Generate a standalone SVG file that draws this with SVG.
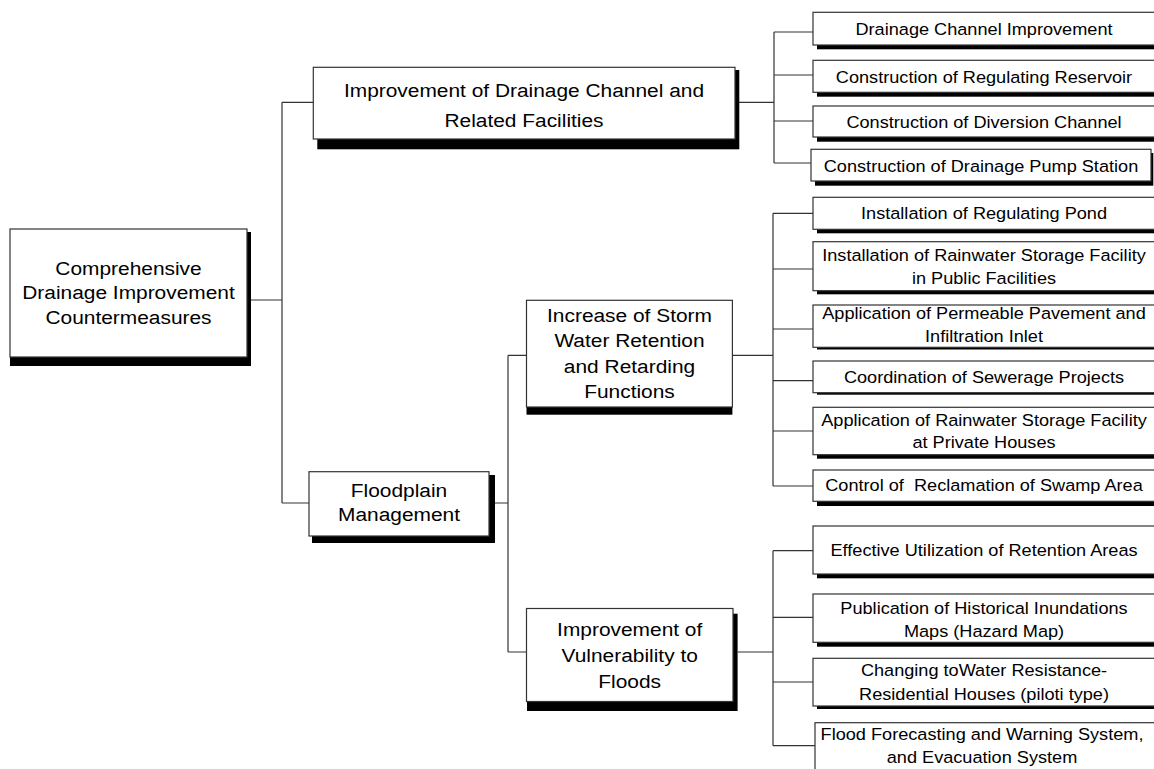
<svg xmlns="http://www.w3.org/2000/svg" width="1154" height="769" viewBox="0 0 1154 769">
<style>
.box{fill:#fff;stroke:#333;stroke-width:1.2}
.sh{fill:#000}
.ln{fill:none;stroke:#333;stroke-width:1.2}
text{font-family:"Liberation Sans",Arial,sans-serif;fill:#000;text-anchor:middle}
.big{font-size:19px}
.sm{font-size:16.5px}
</style>
<rect width="1154" height="769" fill="#fff"/>
<g id="connectors">
<path class="ln" d="M251 300H282M282 102.3V503M282 102.3H313.3M282 503H309"/>
<path class="ln" d="M494 503H508M508 355.4V652M508 355.4H526.5M508 652H526.5"/>
<path class="ln" d="M739 102.3H774M774 32V163M774 32H813M774 75H813M774 121H813M774 163H811"/>
<path class="ln" d="M732.4 355.4H773M773 213.3V486M773 213.3H813M773 269H813M773 329H813M773 380.7H813M773 431H813M773 486H813"/>
<path class="ln" d="M737.6 652H773M773 550.7V745.7M773 550.7H813M773 617.3H813M773 682H813M773 745.7H815"/>
</g>
<g id="root">
<rect class="sh" x="10" y="232" width="241" height="134"/>
<rect class="box" x="10" y="229" width="237" height="128"/>
<text class="big" transform="translate(128.5 0) scale(1.1 1)"><tspan x="0" y="275">Comprehensive</tspan><tspan x="0" y="299.5">Drainage Improvement</tspan><tspan x="0" y="324">Countermeasures</tspan></text>
</g>
<g id="n-channel">
<rect class="sh" x="317.3" y="70" width="422" height="79.3"/>
<rect class="box" x="313.3" y="67.3" width="421.7" height="71.7"/>
<text class="big" transform="translate(524 0) scale(1.1 1)"><tspan x="0" y="97.5">Improvement of Drainage Channel and</tspan><tspan x="0" y="127">Related Facilities</tspan></text>
</g>
<g id="n-floodplain">
<rect class="sh" x="312" y="475" width="183" height="68"/>
<rect class="box" x="309" y="471.7" width="180" height="64.3"/>
<text class="big" transform="translate(399 0) scale(1.1 1)"><tspan x="0" y="497.3">Floodplain</tspan><tspan x="0" y="521">Management</tspan></text>
</g>
<g id="n-storm">
<rect class="sh" x="526.5" y="310" width="205.9" height="104.7"/>
<rect class="box" x="526.5" y="300.3" width="205.9" height="106.7"/>
<text class="big" transform="translate(629.5 0) scale(1.1 1)"><tspan x="0" y="322">Increase of Storm</tspan><tspan x="0" y="347.5">Water Retention</tspan><tspan x="0" y="373">and Retarding</tspan><tspan x="0" y="398.5">Functions</tspan></text>
</g>
<g id="n-vuln">
<rect class="sh" x="527" y="613.7" width="210.6" height="97.3"/>
<rect class="box" x="526.5" y="608.5" width="206.5" height="93"/>
<text class="big" transform="translate(629.7 0) scale(1.1 1)"><tspan x="0" y="636">Improvement of</tspan><tspan x="0" y="662">Vulnerability to</tspan><tspan x="0" y="688">Floods</tspan></text>
</g>
<g id="b1">
<rect class="sh" x="817" y="16" width="345" height="33.3"/>
<rect class="box" x="813" y="12.3" width="343" height="32.7"/>
<text class="sm" transform="translate(984 0) scale(1.1 1)"><tspan x="0" y="35">Drainage Channel Improvement</tspan></text>
</g>
<g id="b2">
<rect class="sh" x="817" y="64" width="345" height="32.7"/>
<rect class="box" x="813" y="60.3" width="343" height="32"/>
<text class="sm" transform="translate(984 0) scale(1.1 1)"><tspan x="0" y="83">Construction of Regulating Reservoir</tspan></text>
</g>
<g id="b3">
<rect class="sh" x="817" y="110" width="345" height="31.7"/>
<rect class="box" x="813" y="106" width="343" height="31"/>
<text class="sm" transform="translate(984 0) scale(1.1 1)"><tspan x="0" y="128">Construction of Diversion Channel</tspan></text>
</g>
<g id="b4">
<rect class="sh" x="815" y="153" width="338.3" height="32.7"/>
<rect class="box" x="811" y="149.3" width="340" height="31.7"/>
<text class="sm" transform="translate(981 0) scale(1.1 1)"><tspan x="0" y="172">Construction of Drainage Pump Station</tspan></text>
</g>
<g id="b5">
<rect class="sh" x="817" y="201" width="345" height="32.3"/>
<rect class="box" x="813" y="197.3" width="343" height="32"/>
<text class="sm" transform="translate(984 0) scale(1.1 1)"><tspan x="0" y="219">Installation of Regulating Pond</tspan></text>
</g>
<g id="b6">
<rect class="sh" x="817" y="245" width="345" height="49.3"/>
<rect class="box" x="813" y="241.7" width="343" height="49"/>
<text class="sm" transform="translate(984 0) scale(1.1 1)"><tspan x="0" y="261.5">Installation of Rainwater Storage Facility</tspan><tspan x="0" y="284.5">in Public Facilities</tspan></text>
</g>
<g id="b7">
<rect class="sh" x="817" y="308" width="345" height="41.5"/>
<rect class="box" x="813" y="305" width="343" height="42.3"/>
<text class="sm" transform="translate(984 0) scale(1.1 1)"><tspan x="0" y="319">Application of Permeable Pavement and</tspan><tspan x="0" y="342">Infiltration Inlet</tspan></text>
</g>
<g id="b8">
<rect class="sh" x="817" y="364" width="345" height="30.7"/>
<rect class="box" x="813" y="361" width="343" height="31.7"/>
<text class="sm" transform="translate(984 0) scale(1.1 1)"><tspan x="0" y="383">Coordination of Sewerage Projects</tspan></text>
</g>
<g id="b9">
<rect class="sh" x="817" y="411" width="345" height="47.7"/>
<rect class="box" x="813" y="407.3" width="343" height="47.4"/>
<text class="sm" transform="translate(984 0) scale(1.1 1)"><tspan x="0" y="426.5">Application of Rainwater Storage Facility</tspan><tspan x="0" y="448.5">at Private Houses</tspan></text>
</g>
<g id="b10">
<rect class="sh" x="817" y="474" width="345" height="32"/>
<rect class="box" x="813" y="470" width="343" height="31.3"/>
<text class="sm" transform="translate(984 0) scale(1.1 1)"><tspan x="0" y="491" xml:space="preserve">Control of  Reclamation of Swamp Area</tspan></text>
</g>
<g id="b11">
<rect class="sh" x="817" y="530" width="345" height="48.3"/>
<rect class="box" x="813" y="526" width="343" height="48"/>
<text class="sm" transform="translate(984 0) scale(1.1 1)"><tspan x="0" y="556">Effective Utilization of Retention Areas</tspan></text>
</g>
<g id="b12">
<rect class="sh" x="817" y="598" width="345" height="48.7"/>
<rect class="box" x="813" y="594" width="343" height="48.3"/>
<text class="sm" transform="translate(984 0) scale(1.1 1)"><tspan x="0" y="614.5">Publication of Historical Inundations</tspan><tspan x="0" y="637">Maps (Hazard Map)</tspan></text>
</g>
<g id="b13">
<rect class="sh" x="817" y="662" width="345" height="47"/>
<rect class="box" x="813" y="658.3" width="343" height="47.7"/>
<text class="sm" transform="translate(984 0) scale(1.1 1)"><tspan x="0" y="676.5">Changing toWater Resistance-</tspan><tspan x="0" y="700">Residential Houses (piloti type)</tspan></text>
</g>
<g id="b14">
<rect class="box" x="815" y="722.7" width="343" height="60"/>
<text class="sm" transform="translate(982 0) scale(1.1 1)"><tspan x="0" y="740">Flood Forecasting and Warning System,</tspan><tspan x="0" y="763">and Evacuation System</tspan></text>
</g>
</svg>
